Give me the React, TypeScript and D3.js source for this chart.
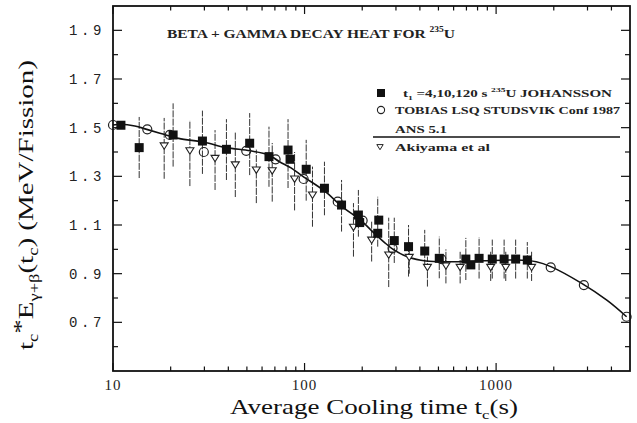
import * as d3 from "d3";
import React from "react";

// ANS 5.1 curve
const ansT = [10, 11, 13, 15, 18, 22, 30, 39, 52, 65, 74, 85, 98, 127, 156, 200, 225, 260, 290, 350, 430, 570, 850, 1270, 1620, 1930, 2800, 3800, 4800];
const ansV = [1.511, 1.514, 1.507, 1.493, 1.475, 1.456, 1.44, 1.418, 1.405, 1.388, 1.36, 1.335, 1.3, 1.24, 1.178, 1.114, 1.075, 1.03, 1.0, 0.967, 0.952, 0.949, 0.953, 0.956, 0.949, 0.929, 0.86, 0.79, 0.723];

// TOBIAS LSQ (open circles)
const tobT = [10, 15.1, 19.8, 29.8, 49.6, 70.6, 98.9, 149, 201, 288, 518, 1928, 2872, 4800];
const tobV = [1.511, 1.493, 1.47, 1.4, 1.405, 1.37, 1.289, 1.196, 1.118, 1.004, 0.96, 0.926, 0.853, 0.723];

// Johansson (filled squares)
const johT = [11, 13.7, 20.6, 29.3, 39.1, 51.7, 65.2, 82, 84, 102, 127, 156, 191, 194, 241, 244, 294, 349, 424, 505, 695, 738, 815, 955, 1101, 1265, 1455];
const johV = [1.51, 1.418, 1.47, 1.445, 1.411, 1.436, 1.381, 1.408, 1.37, 1.329, 1.251, 1.182, 1.141, 1.11, 1.066, 1.12, 1.036, 1.011, 0.993, 0.963, 0.96, 0.936, 0.963, 0.96, 0.96, 0.96, 0.956];
const johLo = [NaN, 1.293, 1.34, 1.31, 1.285, 1.305, 1.257, 1.252, NaN, 1.2, 1.14, 1.073, 1.052, NaN, 1.011, NaN, 0.944, 0.888, 0.93, 0.881, 0.874, NaN, 0.88, 0.88, 0.88, 0.88, 0.88];
const johHi = [NaN, 1.544, 1.6, 1.57, 1.535, 1.56, 1.504, 1.535, NaN, 1.45, 1.36, 1.285, 1.244, NaN, 1.216, NaN, 1.13, 1.1, 1.08, 1.052, 1.047, NaN, 1.05, 1.04, 1.04, 1.04, 1.03];

// Akiyama et al (open down triangles)
const akT = [18.5, 25.2, 34.1, 43.5, 56, 67.8, 88.7, 110, 180, 224, 275, 352, 438, 547, 649, 937, 1123, 1532];
const akV = [1.425, 1.405, 1.374, 1.347, 1.326, 1.323, 1.289, 1.223, 1.091, 1.038, 0.977, 0.967, 0.926, 0.932, 0.926, 0.926, 0.926, 0.926];
const akLo = [1.29, 1.26, 1.244, 1.215, 1.19, 1.196, 1.16, 1.093, 0.97, 0.95, 0.845, 0.9, 0.847, 0.86, 0.86, 0.87, 0.87, 0.87];
const akHi = [1.54, 1.53, 1.49, 1.48, 1.41, 1.437, 1.4, 1.34, 1.19, 1.114, 1.13, 1.03, 0.97, 1.0, 0.99, 0.99, 0.99, 0.99];

const xMajor = [10, 100, 1000];
const xTickLabels = ["10", "100", "1000"];
const yMajor = [0.7, 0.9, 1.1, 1.3, 1.5, 1.7, 1.9];
const yMinor = [0.6, 0.8, 1.0, 1.2, 1.4, 1.6, 1.8];

const W = 637;
const H = 423;
const left = 113, right = 630, top = 6, bottom = 371;

export default function App() {
  const x = d3.scaleLog().domain([10, 5000]).range([left, right]);
  const y = d3.scaleLinear().domain([0.5, 2.0]).range([bottom, top]);

  const xMinor: number[] = [];
  [10, 100, 1000].forEach((d) => {
    for (let k = 2; k <= 9; k++) if (d * k < 5000) xMinor.push(d * k);
  });

  const line = d3
    .line<number>()
    .x((_, i) => x(ansT[i]))
    .y((d) => y(d))
    .curve(d3.curveCatmullRom.alpha(0.5));

  const serif = "'Liberation Serif', serif";

  const bar = (t: number, lo: number, hi: number, key: string) =>
    isNaN(lo) ? null : (
      <line key={key} x1={x(t)} x2={x(t)} y1={y(lo)} y2={y(hi)} stroke="#333" strokeWidth={1} strokeDasharray="7,1.2" />
    );

  const tri = (cx: number, cy: number, s = 4) =>
    `M${cx - s},${cy - s * 0.75}L${cx + s},${cy - s * 0.75}L${cx},${cy + s * 0.85}Z`;

  return (
    <svg width={W} height={H} style={{ position: "absolute", left: 0, top: 0, background: "#fff" }}>
      {/* error bars */}
      <g>
        {johT.map((t, i) => bar(t, johLo[i], johHi[i], "jb" + i))}
        {akT.map((t, i) => bar(t, akLo[i], akHi[i], "ab" + i))}
      </g>

      {/* ANS 5.1 curve */}
      <path d={line(ansV) || ""} fill="none" stroke="#111" strokeWidth={1.6} />

      {/* Akiyama triangles */}
      <g>
        {akT.map((t, i) => (
          <path key={i} d={tri(x(t), y(akV[i]))} fill="#fff" stroke="#222" strokeWidth={1.1} />
        ))}
      </g>

      {/* Tobias circles */}
      <g>
        {tobT.map((t, i) => (
          <circle key={i} cx={x(t)} cy={y(tobV[i])} r={4.5} fill="none" stroke="#222" strokeWidth={1.2} />
        ))}
      </g>

      {/* Johansson squares */}
      <g>
        {johT.map((t, i) => (
          <rect key={i} x={x(t) - 4.5} y={y(johV[i]) - 4.5} width={9} height={9} fill="#111" />
        ))}
      </g>

      {/* frame */}
      <rect x={left} y={top} width={right - left} height={bottom - top} fill="none" stroke="#111" strokeWidth={1.8} />

      {/* ticks, inward on all four sides */}
      <g stroke="#111" strokeWidth={1.2}>
        {xMajor.map((d) => (
          <g key={"xM" + d}>
            <line x1={x(d)} x2={x(d)} y1={bottom} y2={bottom - 8} />
            <line x1={x(d)} x2={x(d)} y1={top} y2={top + 8} />
          </g>
        ))}
        {xMinor.map((d) => (
          <g key={"xm" + d}>
            <line x1={x(d)} x2={x(d)} y1={bottom} y2={bottom - 4.5} />
            <line x1={x(d)} x2={x(d)} y1={top} y2={top + 4.5} />
          </g>
        ))}
        {yMajor.map((d) => (
          <g key={"yM" + d}>
            <line x1={left} x2={left + 9} y1={y(d)} y2={y(d)} />
            <line x1={right} x2={right - 9} y1={y(d)} y2={y(d)} />
          </g>
        ))}
        {yMinor.map((d) => (
          <g key={"ym" + d}>
            <line x1={left} x2={left + 5} y1={y(d)} y2={y(d)} />
            <line x1={right} x2={right - 5} y1={y(d)} y2={y(d)} />
          </g>
        ))}
      </g>

      {/* x tick labels */}
      <g fontFamily={serif} fontSize={15} fill="#222" textAnchor="middle">
        {xMajor.map((d, i) => (
          <text key={d} x={x(d)} y={390} letterSpacing={1}>
            {xTickLabels[i]}
          </text>
        ))}
      </g>

      {/* y tick labels */}
      <g fontFamily="'Liberation Mono', monospace" fontSize={14} fill="#222">
        {yMajor.map((d) => (
          <text key={d} x={69} y={y(d) + 5} letterSpacing={3.6}>
            {d.toFixed(1)}
          </text>
        ))}
      </g>

      {/* axis titles */}
      <text x={374} y={414} fontFamily={serif} fontSize={21} fill="#111" textAnchor="middle" textLength={288} lengthAdjust="spacingAndGlyphs">
        Average Cooling time t<tspan fontSize={13} dy={5}>c</tspan>
        <tspan dy={-5}>(s)</tspan>
      </text>

      <text transform="translate(33,205) rotate(-90)" fontFamily={serif} fontSize={22} fill="#111" textAnchor="middle" textLength={290} lengthAdjust="spacingAndGlyphs">
        t<tspan fontSize={14} dy={5}>c</tspan>
        <tspan dy={-10}>*</tspan>
        <tspan dy={5}>E</tspan>
        <tspan fontSize={14} dy={6}>γ+β</tspan>
        <tspan dy={-6}>(t</tspan>
        <tspan fontSize={14} dy={5}>c</tspan>
        <tspan dy={-5}>) (MeV/Fission)</tspan>
      </text>

      {/* title */}
      <text x={167} y={38} fontFamily={serif} fontWeight="bold" fontSize={13} fill="#222" textLength={288} lengthAdjust="spacingAndGlyphs">
        BETA + GAMMA DECAY HEAT FOR <tspan fontSize={8} dy={-6}>235</tspan>
        <tspan dy={6}>U</tspan>
      </text>

      {/* legend */}
      <g fontFamily={serif} fontWeight="bold" fontSize={11} fill="#222">
        <rect x={377} y={89} width={8} height={8} fill="#111" />
        <text x={403} y={97} textLength={209} lengthAdjust="spacingAndGlyphs">
          t<tspan fontSize={7} dy={3}>1</tspan>
          <tspan dy={-3}> =4,10,120 s </tspan>
          <tspan fontSize={7} dy={-5}>235</tspan>
          <tspan dy={5}>U JOHANSSON</tspan>
        </text>
        <circle cx={381} cy={110} r={3.6} fill="none" stroke="#222" strokeWidth={1.1} />
        <text x={395} y={114} textLength={225} lengthAdjust="spacingAndGlyphs">
          TOBIAS LSQ STUDSVIK Conf 1987
        </text>
        <text x={395} y={133} textLength={52} lengthAdjust="spacingAndGlyphs">
          ANS 5.1
        </text>
        <line x1={373} x2={620} y1={137} y2={137} stroke="#111" strokeWidth={1.3} />
        <path d={tri(380, 147, 3.2)} fill="#fff" stroke="#222" strokeWidth={1} />
        <text x={395} y={151} textLength={95} lengthAdjust="spacingAndGlyphs">
          Akiyama et al
        </text>
      </g>
    </svg>
  );
}
